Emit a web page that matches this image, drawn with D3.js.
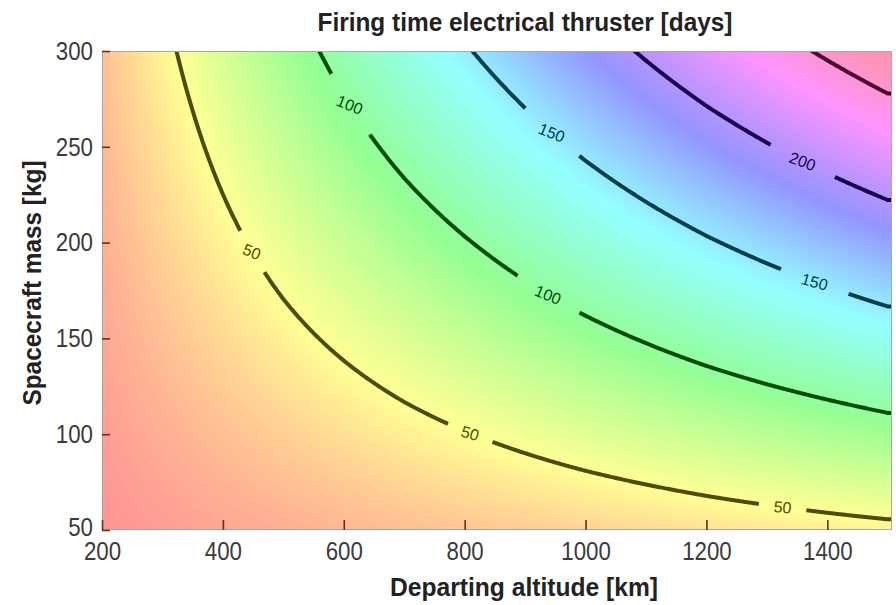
<!DOCTYPE html>
<html>
<head>
<meta charset="utf-8">
<script src="https://cdn.jsdelivr.net/npm/d3@7"></script>
<style>
  body { margin: 0; background: #fff; }
  svg { display: block; }
  .narrow { font-family: 'Liberation Sans Narrow', 'Arial Narrow', 'Liberation Sans', sans-serif; }
</style>
</head>
<body>
<script>
// grid of firing times [days], one array per spacecraft mass, columns = altitudes
var altitudes = [200, 300, 400, 500, 600, 700, 800, 900, 1000, 1100, 1200, 1300, 1400, 1500];
var masses = [50, 100, 150, 200, 250, 300];
var days50kg  = [3.8, 7.5, 11.1, 14.7, 18.1, 21.4, 24.6, 27.8, 30.9, 33.9, 36.9, 39.7, 42.4, 45.0];
var days100kg = [7.5, 15.0, 22.2, 29.3, 36.1, 42.8, 49.2, 55.5, 61.8, 67.8, 73.7, 79.3, 84.7, 90.0];
var days150kg = [11.3, 22.5, 33.3, 44.0, 54.2, 64.2, 73.8, 83.3, 92.7, 101.7, 110.6, 119.0, 127.1, 135.0];
var days200kg = [15.0, 30.0, 44.4, 58.6, 72.2, 85.6, 98.4, 111.0, 123.6, 135.6, 147.4, 158.6, 169.4, 180.0];
var days250kg = [18.8, 37.5, 55.5, 73.3, 90.3, 107.0, 123.0, 138.8, 154.5, 169.5, 184.3, 198.3, 211.8, 225.0];
var days300kg = [22.5, 45.0, 66.6, 87.9, 108.3, 128.4, 147.6, 166.5, 185.4, 203.4, 221.1, 237.9, 254.1, 270.0];

// contour levels and where their labels sit (altitude along the line)
var levels = [50, 100, 150, 200, 250];
var labelLevels = [50, 50, 50, 100, 100, 150, 150, 200];
var labelAltitudes = [448, 809, 1326, 610, 938, 944, 1379, 1359];

var xTicks = [200, 400, 600, 800, 1000, 1200, 1400];
var yTicks = [50, 100, 150, 200, 250, 300];

var table = [days50kg, days100kg, days150kg, days200kg, days250kg, days300kg];

var W = 896, H = 605;
var x = d3.scaleLinear().domain([200, 1507]).range([102, 892]);
var y = d3.scaleLinear().domain([50, 300]).range([530, 51]);

var all = d3.merge(table);
var tmin = d3.min(all), tmax = d3.max(all);
var hue = d3.scaleLinear().domain([tmin, tmax]).range([0, 350]);

// bilinear lookup in the table (linear extension beyond the mass range)
function firing(alt, m) {
    var i = Math.max(0, Math.min(altitudes.length - 2, d3.bisectRight(altitudes, alt) - 1));
    var tx = (alt - altitudes[i]) / (altitudes[i + 1] - altitudes[i]);
    tx = Math.max(0, Math.min(1, tx));
    var j = Math.max(0, Math.min(masses.length - 2, d3.bisectRight(masses, m) - 1));
    var ty = (m - masses[j]) / (masses[j + 1] - masses[j]);
    var a = table[j][i] * (1 - tx) + table[j][i + 1] * tx;
    var b = table[j + 1][i] * (1 - tx) + table[j + 1][i + 1] * tx;
    return a + (b - a) * ty;
}

// mass where firing(alt, m) == level
function massAt(level, alt) {
    var lo = 0, hi = 500;
    for (var k = 0; k < 40; k++) {
        var mid = (lo + hi) / 2;
        if (firing(alt, mid) < level) lo = mid; else hi = mid;
    }
    return (lo + hi) / 2;
}

var svg = d3.select("body").append("svg")
    .attr("width", W)
    .attr("height", H);

var defs = svg.append("defs");
defs.append("clipPath").attr("id", "plotclip")
    .append("rect")
    .attr("x", x.range()[0]).attr("y", y.range()[1])
    .attr("width", x.range()[1] - x.range()[0])
    .attr("height", y.range()[0] - y.range()[1]);

// background colour field
var cw = x.range()[1] - x.range()[0], ch = y.range()[0] - y.range()[1];
var canvas = document.createElement("canvas");
canvas.width = cw; canvas.height = ch;
var ctx = canvas.getContext("2d");
var img = ctx.createImageData(cw, ch);
var lut = d3.range(256).map(function (k) {
    return d3.rgb(d3.hsl(k / 255 * 350, 1, 0.79));
});
for (var py = 0; py < ch; py++) {
    var m = y.invert(y.range()[1] + py + 0.5);
    for (var px = 0; px < cw; px++) {
        var alt = x.invert(x.range()[0] + px + 0.5);
        var t = (firing(alt, m) - tmin) / (tmax - tmin);
        var k = Math.max(0, Math.min(255, Math.round(t * 255)));
        var c = lut[k], o = (py * cw + px) * 4;
        img.data[o] = c.r; img.data[o + 1] = c.g; img.data[o + 2] = c.b; img.data[o + 3] = 255;
    }
}
ctx.putImageData(img, 0, 0);
svg.append("image")
    .attr("x", x.range()[0]).attr("y", y.range()[1])
    .attr("width", cw).attr("height", ch)
    .attr("href", canvas.toDataURL());

// label placement
var labels = labelLevels.map(function (lev, i) {
    var a = labelAltitudes[i];
    var p0 = [x(a - 8), y(massAt(lev, a - 8))];
    var p1 = [x(a + 8), y(massAt(lev, a + 8))];
    var raw = Math.atan2(p1[1] - p0[1], p1[0] - p0[0]) * 180 / Math.PI;
    return {
        level: lev,
        cx: x(a), cy: y(massAt(lev, a)),
        lineAngle: raw,
        textAngle: Math.min(raw * 0.75, 22),
        gap: String(lev).length * 24
    };
});

function lineColor(lev) { return d3.hsl(hue(lev), 1, 0.15).toString(); }

var line = d3.line()
    .x(function (d) { return x(d[0]); })
    .y(function (d) { return y(d[1]); });

var lines = svg.append("g").attr("clip-path", "url(#plotclip)");

levels.forEach(function (lev) {
    var pts = [];
    for (var a = 190; a <= 1515; a += 2) {
        var mm = massAt(lev, a);
        if (mm > 30 && mm < 320) pts.push([a, mm]);
    }
    var mask = defs.append("mask").attr("id", "gap" + lev)
        .attr("maskUnits", "userSpaceOnUse")
        .attr("x", 0).attr("y", 0).attr("width", W).attr("height", H);
    mask.append("rect").attr("width", W).attr("height", H).attr("fill", "#fff");
    labels.filter(function (l) { return l.level === lev; }).forEach(function (l) {
        mask.append("rect")
            .attr("x", -l.gap / 2).attr("y", -10)
            .attr("width", l.gap).attr("height", 20)
            .attr("fill", "#000")
            .attr("transform", "translate(" + l.cx + "," + l.cy + ") rotate(" + l.lineAngle + ")");
    });
    lines.append("path")
        .datum(pts)
        .attr("d", line)
        .attr("fill", "none")
        .attr("stroke", lineColor(lev))
        .attr("stroke-width", 4)
        .attr("mask", "url(#gap" + lev + ")");
});

lines.selectAll("text.clabel")
    .data(labels)
    .enter()
    .append("text")
    .attr("class", "clabel")
    .attr("transform", function (d) { return "translate(" + d.cx + "," + d.cy + ") rotate(" + d.textAngle + ")"; })
    .attr("text-anchor", "middle")
    .attr("dy", "0.35em")
    .style("font-family", "'Liberation Sans', Arial, sans-serif")
    .style("font-size", "16px")
    .attr("fill", function (d) { return lineColor(d.level); })
    .text(function (d) { return d.level; });

// box
svg.append("rect")
    .attr("x", x.range()[0] + 0.5).attr("y", y.range()[1] + 0.5)
    .attr("width", cw - 1).attr("height", ch - 1)
    .attr("fill", "none")
    .attr("stroke", "#a8a8a8")
    .attr("stroke-width", 1);

// axes
var xAxis = svg.append("g")
    .attr("class", "narrow")
    .attr("transform", "translate(0," + y.range()[0] + ")")
    .call(d3.axisBottom(x).tickValues(xTicks).tickFormat(d3.format("d"))
        .tickSizeInner(-10).tickSizeOuter(0).tickPadding(12));
var yAxis = svg.append("g")
    .attr("class", "narrow")
    .attr("transform", "translate(" + x.range()[0] + ",0)")
    .call(d3.axisLeft(y).tickValues(yTicks).tickFormat(d3.format("d"))
        .tickSizeInner(-8).tickSizeOuter(0).tickPadding(9));

[xAxis, yAxis].forEach(function (g) {
    g.select(".domain").remove();
    g.selectAll(".tick line").attr("stroke", "#6a2e1e").attr("stroke-width", 1.6);
    g.selectAll(".tick text")
        .attr("fill", "#3a3a3a")
        .style("font-family", "'Liberation Sans Narrow', 'Arial Narrow', 'Liberation Sans', sans-serif")
        .style("font-size", "26px")
        .attr("textLength", function (d) { return String(d).length * 12.4; })
        .attr("lengthAdjust", "spacingAndGlyphs");
});
// lowest mass label sits a touch higher so it clears the first altitude label
yAxis.selectAll(".tick text").filter(function (d) { return d === 50; }).attr("dy", "0.2em");

// titles
svg.append("text")
    .attr("class", "narrow")
    .attr("x", 525).attr("y", 31)
    .attr("text-anchor", "middle")
    .style("font-size", "25px")
    .style("font-weight", "bold")
    .attr("fill", "#222")
    .attr("textLength", 415)
    .attr("lengthAdjust", "spacingAndGlyphs")
    .text("Firing time electrical thruster [days]");

svg.append("text")
    .attr("class", "narrow")
    .attr("x", 524).attr("y", 596)
    .attr("text-anchor", "middle")
    .style("font-size", "26px")
    .style("font-weight", "bold")
    .attr("fill", "#222")
    .attr("textLength", 268)
    .attr("lengthAdjust", "spacingAndGlyphs")
    .text("Departing altitude [km]");

svg.append("text")
    .attr("class", "narrow")
    .attr("transform", "translate(41,283) rotate(-90)")
    .attr("text-anchor", "middle")
    .style("font-size", "26px")
    .style("font-weight", "bold")
    .attr("fill", "#222")
    .attr("textLength", 245)
    .attr("lengthAdjust", "spacingAndGlyphs")
    .text("Spacecraft mass [kg]");
</script>
</body>
</html>
